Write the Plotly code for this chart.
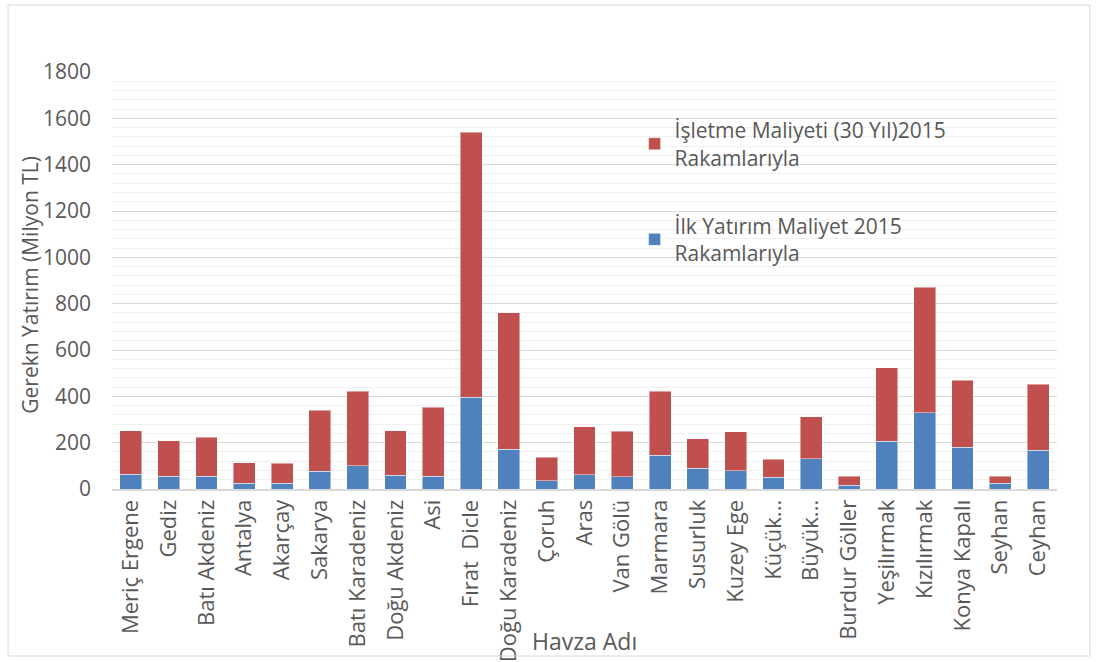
import plotly.graph_objects as go

# Havza (river basin) names
havzalar = [
    "Meriç Ergene", "Gediz", "Batı Akdeniz", "Antalya", "Akarçay", "Sakarya",
    "Batı Karadeniz", "Doğu Akdeniz", "Asi", "Fırat  Dicle", "Doğu Karadeniz",
    "Çoruh", "Aras", "Van Gölü", "Marmara", "Susurluk", "Kuzey Ege", "Küçük...",
    "Büyük...", "Burdur Göller", "Yeşilırmak", "Kızılırmak", "Konya Kapalı",
    "Seyhan", "Ceyhan",
]

# İlk yatırım maliyeti (Milyon TL, 2015)
ilk_yatirim = [64, 56, 55, 25, 25, 76, 101, 59, 55, 397, 171, 35, 61, 52, 145,
               89, 78, 50, 131, 17, 206, 329, 180, 25, 167]

# İşletme maliyeti, 30 yıl (Milyon TL, 2015)
isletme = [188, 152, 168, 89, 87, 265, 322, 193, 298, 1144, 590, 103, 207, 197,
           277, 128, 169, 78, 180, 39, 318, 541, 290, 31, 285]

y_ticks = [0, 200, 400, 600, 800, 1000, 1200, 1400, 1600, 1800]

FONT = "Open Sans"
TEXT = "#595959"

fig = go.Figure()
fig.add_trace(go.Bar(
    x=havzalar, y=ilk_yatirim,
    name="İlk Yatırım Maliyet 2015<br>Rakamlarıyla",
    legendgroup="a", legendrank=2,
    marker=dict(color="#4F81BD", line=dict(color="rgba(255,255,255,0.45)", width=1)),
))
fig.add_trace(go.Bar(
    x=havzalar, y=isletme,
    name="İşletme Maliyeti (30 Yıl)2015<br>Rakamlarıyla",
    legendgroup="b", legendrank=1,
    marker=dict(color="#C0504D", line=dict(color="rgba(255,255,255,0.45)", width=1)),
))

fig.update_layout(
    barmode="stack",
    bargap=0.42,
    width=1096, height=662,
    margin=dict(l=112, r=39, t=72, b=173, autoexpand=False),
    paper_bgcolor="white",
    plot_bgcolor="white",
    font=dict(family=FONT, size=21, color=TEXT),
    showlegend=True,
    legend=dict(
        x=0.553, y=0.909, xanchor="left", yanchor="top",
        traceorder="grouped", tracegroupgap=38,
        bgcolor="rgba(0,0,0,0)",
        font=dict(family=FONT, size=21, color=TEXT),
        itemwidth=30,
    ),
)

fig.update_xaxes(
    tickangle=-90,
    tickfont=dict(family=FONT, size=22, color=TEXT),
    showline=True, linecolor="#D9D9D9", linewidth=2,
    showgrid=False,
    ticks="",
    automargin=False,
)

fig.update_yaxes(
    range=[0, 1800],
    tickvals=y_ticks,
    tickfont=dict(family=FONT, size=21, color=TEXT),
    showgrid=True, gridcolor="#D9D9D9", gridwidth=1,
    minor=dict(dtick=40, showgrid=True, gridcolor="#F0F0F0", gridwidth=1),
    zeroline=False,
    ticks="",
    ticklabelstandoff=20,
    automargin=False,
)

# axis titles
fig.add_annotation(
    text="Havza Adı", xref="paper", yref="paper", x=0.5, y=-0.365,
    xanchor="center", yanchor="middle", showarrow=False,
    font=dict(family=FONT, size=23, color=TEXT),
)
fig.add_annotation(
    text="Gerekn Yatırım (Milyon TL)", xref="paper", yref="paper",
    x=-0.0867, y=0.49, xanchor="center", yanchor="middle", textangle=-90,
    showarrow=False, font=dict(family=FONT, size=21, color=TEXT),
)

# outer chart border
fig.add_shape(
    type="rect", xref="paper", yref="paper",
    x0=-0.110, x1=1.0349, y0=-0.4005, y1=1.1607,
    line=dict(color="#D9D9D9", width=1), fillcolor="rgba(0,0,0,0)",
)

fig.write_html("out.html")
